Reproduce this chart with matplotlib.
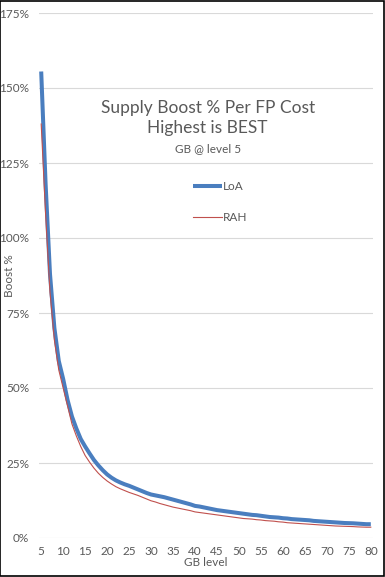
import numpy as np
import matplotlib
matplotlib.use('Agg')
import matplotlib.pyplot as plt
from matplotlib.ticker import FuncFormatter
from matplotlib.patches import Rectangle

# GB levels 5..80
levels = list(range(5, 81))

# Boost % per FP cost
loa = [155.5, 118, 88, 70, 59, 53, 46, 40.5, 36.5, 33,
       30.5, 28.2, 26.0, 24.2, 22.6, 21.2, 20.1, 19.2, 18.5, 17.9,
       17.4, 16.8, 16.2, 15.6, 15, 14.5, 14.2, 13.9, 13.6, 13.2,
       12.8, 12.4, 12, 11.6, 11.2, 10.7, 10.5, 10.2, 9.9, 9.6,
       9.3, 9.1, 8.9, 8.7, 8.5, 8.3, 8.1, 7.9, 7.7, 7.6,
       7.4, 7.2, 7.0, 6.9, 6.8, 6.6, 6.5, 6.3, 6.2, 6.1,
       6.0, 5.9, 5.7, 5.6, 5.5, 5.4, 5.3, 5.2, 5.1, 5.0,
       4.95, 4.9, 4.8, 4.7, 4.6, 4.6]
rah = [138, 108, 82, 66, 56, 50, 44, 38, 34, 30.5,
       27.5, 25.3, 23.3, 21.6, 20.2, 19.0, 18.0, 17.1, 16.4, 15.8,
       15.2, 14.7, 14.2, 13.6, 13, 12.4, 12, 11.5, 11.1, 10.7,
       10.3, 10, 9.7, 9.4, 9.1, 8.7, 8.5, 8.3, 8.1, 7.9,
       7.7, 7.5, 7.3, 7.1, 6.9, 6.7, 6.5, 6.4, 6.3, 6.1,
       6.0, 5.8, 5.7, 5.6, 5.4, 5.3, 5.1, 5.0, 4.9, 4.8,
       4.7, 4.6, 4.5, 4.4, 4.3, 4.2, 4.1, 4.0, 3.95, 3.9,
       3.85, 3.8, 3.7, 3.65, 3.6, 3.6]

xticks = list(range(5, 81, 5))
yticks = [0, 25, 50, 75, 100, 125, 150, 175]

plt.rcParams['font.family'] = ['Lato', 'DejaVu Sans']
grey = '#595959'

fig = plt.figure(figsize=(3.85, 5.77), dpi=100)
ax = fig.add_axes([39 / 385, 1 - 538 / 577, 334 / 385, 525 / 577])

ax.plot(levels, loa, color='#4a7ebf', lw=2.9, label='LoA', solid_capstyle='butt')
ax.plot(levels, rah, color='#c0504d', lw=0.8, label='RAH')

ax.set_xlim(4.5, 80.5)
ax.set_ylim(0, 175)
ax.set_xticks(xticks)
ax.set_yticks(yticks)
ax.yaxis.set_major_formatter(FuncFormatter(lambda v, p: '%d%%' % v))
ax.grid(axis='y', color='#d9d9d9', lw=0.8)
ax.set_axisbelow(True)
for s in ax.spines.values():
    s.set_visible(False)
ax.tick_params(length=0, labelsize=8.5, labelcolor=grey)
ax.tick_params(axis='y', pad=7)
ax.tick_params(axis='x', pad=6)
ax.set_xlabel('GB level', fontsize=8.5, color=grey, labelpad=0)
ax.set_ylabel('Boost %', fontsize=8.5, color=grey)
ax.yaxis.set_label_coords(-24 / 334, 0.50)

ax.text(0.505, 0.80, 'Supply Boost % Per FP Cost\nHighest is BEST', transform=ax.transAxes,
        ha='center', va='center', fontsize=12.5, color=grey, linespacing=1.25)
ax.text(0.505, 0.741, 'GB @ level 5', transform=ax.transAxes,
        ha='center', va='center', fontsize=8.5, color=grey)

ax.legend(loc='upper left', bbox_to_anchor=(0.43, 0.70), frameon=False, fontsize=8.5,
          labelcolor=grey, handlelength=2.4, handletextpad=0.1, labelspacing=1.7)

fig.patches.append(Rectangle((0.001, 0.001), 0.997, 0.997, transform=fig.transFigure,
                             fill=False, edgecolor='black', lw=1.2))

fig.savefig('out.png', dpi=100)
